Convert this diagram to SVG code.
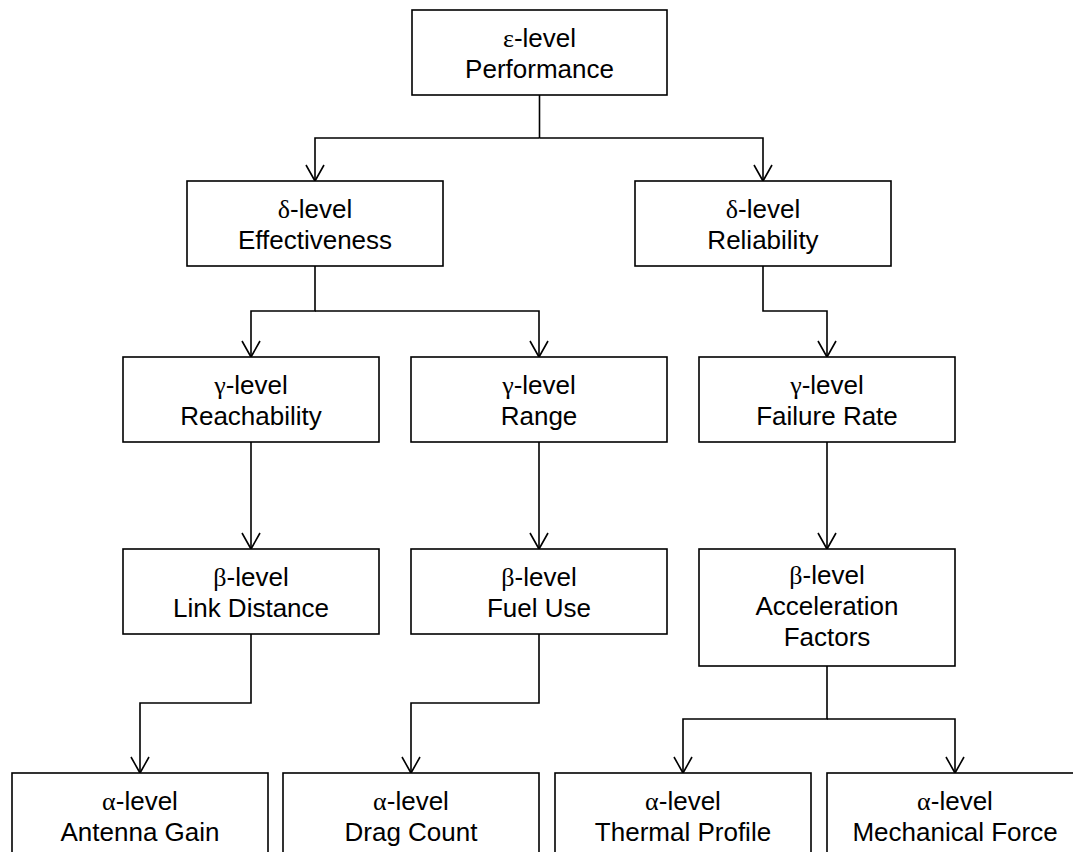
<svg xmlns="http://www.w3.org/2000/svg" width="1073" height="852" viewBox="0 0 1073 852">
<style>
.box{fill:#fff;stroke:#000;stroke-width:1.6}
.t{font-family:"Liberation Sans",Arial,sans-serif;font-size:26px;text-anchor:middle;fill:#000}
.g{font-family:"Liberation Serif","Times New Roman",serif}
.c{fill:none;stroke:#000;stroke-width:1.6}
</style>
<defs>
<marker id="arr" viewBox="-18 -11 20 22" markerWidth="20" markerHeight="22" refX="0" refY="0" markerUnits="userSpaceOnUse" orient="auto">
<path d="M-16,-9 L0,0 L-16,9" fill="none" stroke="#000" stroke-width="1.6"/>
</marker>
</defs>
<rect width="1073" height="852" fill="#fff"/>
<g id="connectors">
<path class="c" d="M539.5 95 V138"/>
<path class="c" d="M539.5 138 H315 V181" marker-end="url(#arr)"/>
<path class="c" d="M539.5 138 H763 V181" marker-end="url(#arr)"/>
<path class="c" d="M315 266 V311 H251 V357" marker-end="url(#arr)"/>
<path class="c" d="M315 311 H539 V357" marker-end="url(#arr)"/>
<path class="c" d="M763 266 V311 H827 V357" marker-end="url(#arr)"/>
<path class="c" d="M251 442 V549" marker-end="url(#arr)"/>
<path class="c" d="M539 442 V549" marker-end="url(#arr)"/>
<path class="c" d="M827 442 V549" marker-end="url(#arr)"/>
<path class="c" d="M251 634 V703 H140 V773" marker-end="url(#arr)"/>
<path class="c" d="M539 634 V703 H411 V773" marker-end="url(#arr)"/>
<path class="c" d="M827 666 V719 H683 V773" marker-end="url(#arr)"/>
<path class="c" d="M827 719 H955 V773" marker-end="url(#arr)"/>
</g>
<g id="performance">
<rect class="box" x="412" y="10" width="255" height="85"/>
<text class="t" x="539.5" y="47"><tspan class="g">ε</tspan>-level</text>
<text class="t" x="539.5" y="78">Performance</text>
</g>
<g id="effectiveness">
<rect class="box" x="187" y="181" width="256" height="85"/>
<text class="t" x="315" y="218"><tspan class="g">δ</tspan>-level</text>
<text class="t" x="315" y="249">Effectiveness</text>
</g>
<g id="reliability">
<rect class="box" x="635" y="181" width="256" height="85"/>
<text class="t" x="763" y="218"><tspan class="g">δ</tspan>-level</text>
<text class="t" x="763" y="249">Reliability</text>
</g>
<g id="reachability">
<rect class="box" x="123" y="357" width="256" height="85"/>
<text class="t" x="251" y="394"><tspan class="g">γ</tspan>-level</text>
<text class="t" x="251" y="425">Reachability</text>
</g>
<g id="range">
<rect class="box" x="411" y="357" width="256" height="85"/>
<text class="t" x="539" y="394"><tspan class="g">γ</tspan>-level</text>
<text class="t" x="539" y="425">Range</text>
</g>
<g id="failure-rate">
<rect class="box" x="699" y="357" width="256" height="85"/>
<text class="t" x="827" y="394"><tspan class="g">γ</tspan>-level</text>
<text class="t" x="827" y="425">Failure Rate</text>
</g>
<g id="link-distance">
<rect class="box" x="123" y="549" width="256" height="85"/>
<text class="t" x="251" y="586"><tspan class="g">β</tspan>-level</text>
<text class="t" x="251" y="617">Link Distance</text>
</g>
<g id="fuel-use">
<rect class="box" x="411" y="549" width="256" height="85"/>
<text class="t" x="539" y="586"><tspan class="g">β</tspan>-level</text>
<text class="t" x="539" y="617">Fuel Use</text>
</g>
<g id="acceleration-factors">
<rect class="box" x="699" y="549" width="256" height="117"/>
<text class="t" x="827" y="584"><tspan class="g">β</tspan>-level</text>
<text class="t" x="827" y="615">Acceleration</text>
<text class="t" x="827" y="646">Factors</text>
</g>
<g id="antenna-gain">
<rect class="box" x="12" y="773" width="256" height="100"/>
<text class="t" x="140" y="810"><tspan class="g">α</tspan>-level</text>
<text class="t" x="140" y="841">Antenna Gain</text>
</g>
<g id="drag-count">
<rect class="box" x="283" y="773" width="256" height="100"/>
<text class="t" x="411" y="810"><tspan class="g">α</tspan>-level</text>
<text class="t" x="411" y="841">Drag Count</text>
</g>
<g id="thermal-profile">
<rect class="box" x="555" y="773" width="256" height="100"/>
<text class="t" x="683" y="810"><tspan class="g">α</tspan>-level</text>
<text class="t" x="683" y="841">Thermal Profile</text>
</g>
<g id="mechanical-force">
<rect class="box" x="827" y="773" width="256" height="100"/>
<text class="t" x="955" y="810"><tspan class="g">α</tspan>-level</text>
<text class="t" x="955" y="841">Mechanical Force</text>
</g>
</svg>
